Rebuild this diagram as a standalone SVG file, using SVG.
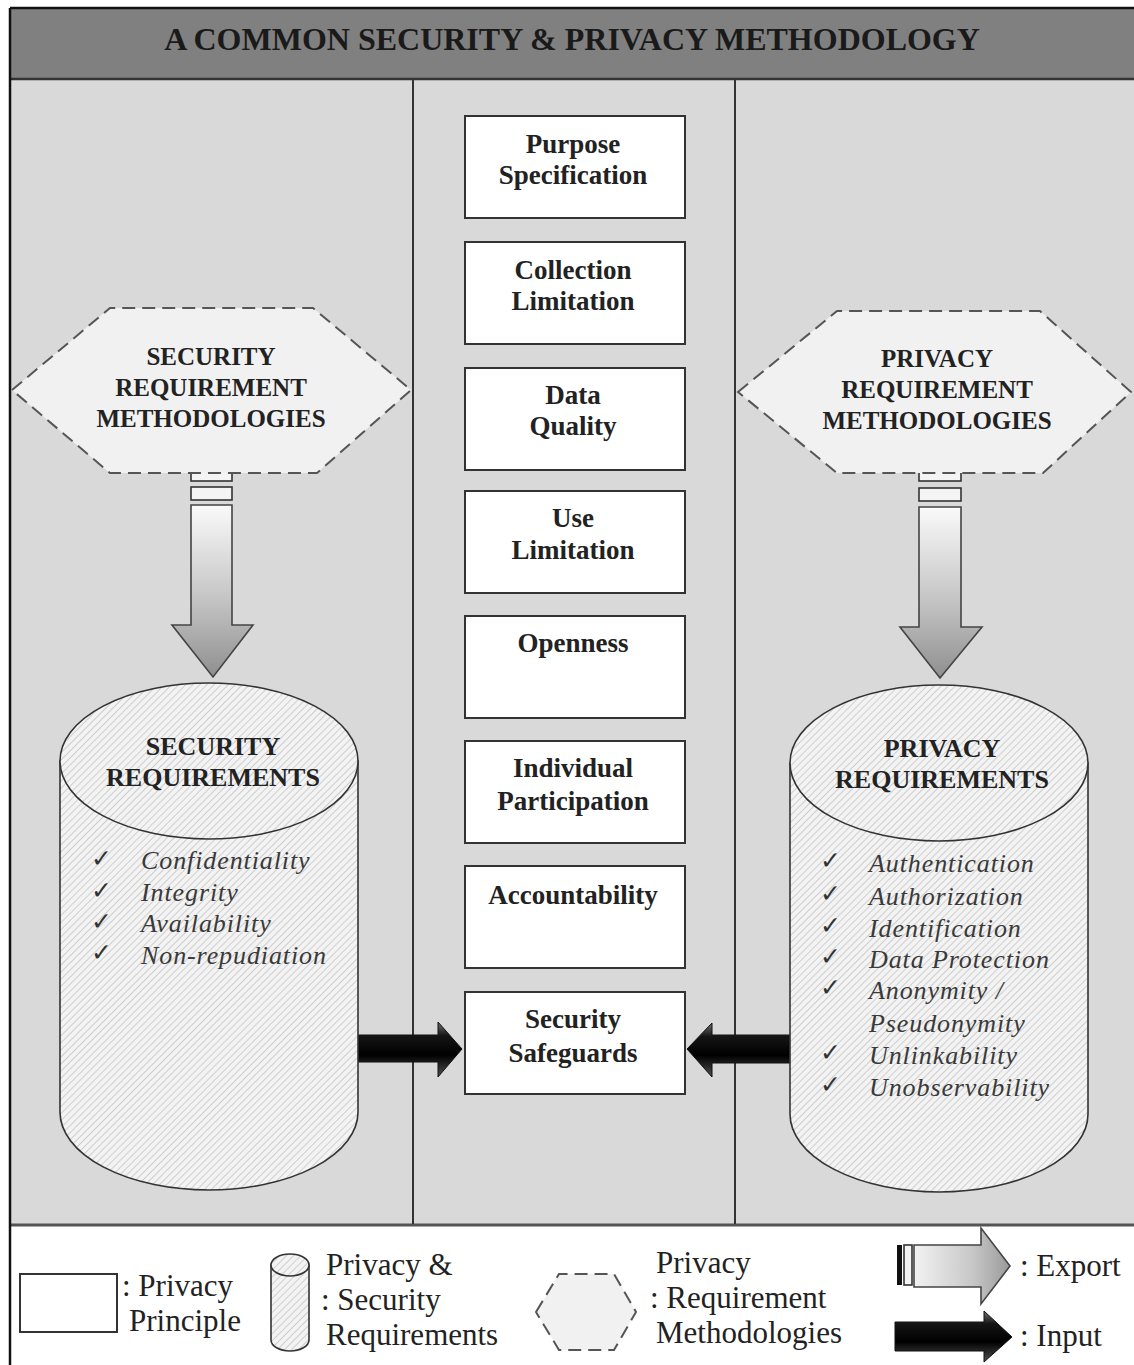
<svg xmlns="http://www.w3.org/2000/svg" width="1134" height="1365" viewBox="0 0 1134 1365">
  <style>
    .title { font-family: "Liberation Serif", serif; font-weight: bold; font-size: 32px; fill: #1a1a1a; text-anchor: middle; }
    .box { fill: #ffffff; stroke: #333333; stroke-width: 2; }
    .boxtxt { font-family: "Liberation Serif", serif; font-weight: bold; font-size: 27px; fill: #222222; text-anchor: middle; }
    .hex { fill: #f1f1f1; stroke: #555555; stroke-width: 2; stroke-dasharray: 13 7; }
    .hextxt { font-family: "Liberation Serif", serif; font-weight: bold; font-size: 25px; fill: #222222; text-anchor: middle; }
    .cyl { fill: url(#hatch); stroke: #333333; stroke-width: 1.6; }
    .cyltxt { font-family: "Liberation Serif", serif; font-weight: bold; font-size: 26px; fill: #222222; text-anchor: middle; }
    .item { font-family: "Liberation Serif", serif; font-style: italic; font-size: 26px; fill: #3a3a3a; letter-spacing: 0.9px; }
    .check { font-family: "DejaVu Sans", sans-serif; font-size: 25px; fill: #333333; }
    .divider { stroke: #333333; stroke-width: 2; }
    .export { fill: url(#exportGrad); stroke: #444444; stroke-width: 1.6; }
    .bar { fill: #f4f4f4; stroke: #333333; stroke-width: 1.6; }
    .input { fill: url(#inputGrad); stroke: #111111; stroke-width: 1; }
    .legend { font-family: "Liberation Serif", serif; font-size: 31px; fill: #222222; }
  </style>
  <defs>
    <pattern id="hatch" patternUnits="userSpaceOnUse" width="5" height="5" patternTransform="rotate(45)">
      <rect width="5" height="5" fill="#f3f3f3"/>
      <line x1="0" y1="0" x2="0" y2="5" stroke="#a9a9a9" stroke-width="1"/>
    </pattern>
    <linearGradient id="exportGrad" x1="0" y1="0" x2="0" y2="1">
      <stop offset="0" stop-color="#fafafa"/>
      <stop offset="0.55" stop-color="#c4c4c4"/>
      <stop offset="1" stop-color="#8f8f8f"/>
    </linearGradient>
    <linearGradient id="exportGradH" x1="0" y1="0" x2="1" y2="0">
      <stop offset="0" stop-color="#f2f2f2"/>
      <stop offset="0.6" stop-color="#c8c8c8"/>
      <stop offset="1" stop-color="#9a9a9a"/>
    </linearGradient>
    <linearGradient id="inputGrad" x1="0" y1="0" x2="0" y2="1">
      <stop offset="0" stop-color="#707070"/>
      <stop offset="0.25" stop-color="#151515"/>
      <stop offset="0.6" stop-color="#000000"/>
      <stop offset="1" stop-color="#505050"/>
    </linearGradient>
  </defs>

  <!-- frame: header band, main panel, legend strip -->
  <g id="frame">
    <rect x="0" y="0" width="1134" height="1365" fill="#ffffff"/>
    <rect x="10" y="9" width="1124" height="70" fill="#808080"/>
    <rect x="10" y="79" width="1124" height="1145" fill="#d9d9d9"/>
    <line x1="10" y1="8" x2="1134" y2="8" stroke="#111111" stroke-width="2.5"/>
    <line x1="10" y1="79" x2="1134" y2="79" stroke="#333333" stroke-width="2.5"/>
    <line x1="10" y1="1225" x2="1134" y2="1225" stroke="#555555" stroke-width="3"/>
    <line x1="10" y1="8" x2="10" y2="1365" stroke="#111111" stroke-width="2.5"/>
    <line class="divider" x1="413" y1="80" x2="413" y2="1224"/>
    <line class="divider" x1="735" y1="80" x2="735" y2="1224"/>
    <text class="title" x="572" y="50">A COMMON SECURITY &amp; PRIVACY METHODOLOGY</text>
  </g>

  <!-- export arrows (methodologies to requirements) and input arrows -->
  <g id="connectors">
    <g id="export-left">
      <rect class="bar" x="191" y="472" width="41" height="9"/>
      <rect class="bar" x="191" y="487" width="41" height="13"/>
      <path class="export" d="M191 505 L232 505 L232 625 L253 625 L213 677 L172 625 L191 625 Z"/>
    </g>
    <g id="export-right">
      <rect class="bar" x="919" y="472" width="42" height="9"/>
      <rect class="bar" x="919" y="488" width="42" height="13"/>
      <path class="export" d="M919 507 L961 507 L961 627 L982 627 L940 678 L900 627 L919 627 Z"/>
    </g>
    <path id="input-left" class="input" d="M352 1035 L438 1035 L438 1022 L462 1049 L438 1077 L438 1062 L352 1062 Z"/>
    <path id="input-right" class="input" d="M795 1035 L712 1035 L712 1023 L687 1049 L712 1077 L712 1063 L795 1063 Z"/>
  </g>

  <!-- security requirement methodologies -->
  <g id="security-methodologies">
    <polygon class="hex" points="12,390 110,308 313,308 411,390 317,473 110,473"/>
    <text class="hextxt" x="211" y="365">SECURITY</text>
    <text class="hextxt" x="211" y="396">REQUIREMENT</text>
    <text class="hextxt" x="211" y="427">METHODOLOGIES</text>
  </g>

  <!-- privacy requirement methodologies -->
  <g id="privacy-methodologies">
    <polygon class="hex" points="738,392 837,311 1040,311 1131,392 1043,473 837,473"/>
    <text class="hextxt" x="937" y="367">PRIVACY</text>
    <text class="hextxt" x="937" y="398">REQUIREMENT</text>
    <text class="hextxt" x="937" y="429">METHODOLOGIES</text>
  </g>

  <!-- security requirements store -->
  <g id="security-requirements">
    <path class="cyl" d="M60 761 L60 1112 A149 78 0 0 0 358 1112 L358 761 Z"/>
    <ellipse class="cyl" cx="209" cy="761" rx="149" ry="78"/>
    <text class="cyltxt" x="213" y="755">SECURITY</text>
    <text class="cyltxt" x="213" y="786">REQUIREMENTS</text>
    <text class="check" x="91" y="867">✓</text>
    <text class="item" x="141" y="869">Confidentiality</text>
    <text class="check" x="91" y="899">✓</text>
    <text class="item" x="141" y="901">Integrity</text>
    <text class="check" x="91" y="930">✓</text>
    <text class="item" x="141" y="932">Availability</text>
    <text class="check" x="91" y="961">✓</text>
    <text class="item" x="141" y="964">Non-repudiation</text>
  </g>

  <!-- privacy requirements store -->
  <g id="privacy-requirements">
    <path class="cyl" d="M790 763 L790 1114 A149 78 0 0 0 1088 1114 L1088 763 Z"/>
    <ellipse class="cyl" cx="939" cy="763" rx="149" ry="78"/>
    <text class="cyltxt" x="942" y="757">PRIVACY</text>
    <text class="cyltxt" x="942" y="788">REQUIREMENTS</text>
    <text class="check" x="820" y="869">✓</text>
    <text class="item" x="869" y="872">Authentication</text>
    <text class="check" x="820" y="902">✓</text>
    <text class="item" x="869" y="905">Authorization</text>
    <text class="check" x="820" y="934">✓</text>
    <text class="item" x="869" y="937">Identification</text>
    <text class="check" x="820" y="965">✓</text>
    <text class="item" x="869" y="968">Data Protection</text>
    <text class="check" x="820" y="996">✓</text>
    <text class="item" x="869" y="999">Anonymity /</text>
    <text class="item" x="869" y="1032">Pseudonymity</text>
    <text class="check" x="820" y="1061">✓</text>
    <text class="item" x="869" y="1064">Unlinkability</text>
    <text class="check" x="820" y="1093">✓</text>
    <text class="item" x="869" y="1096">Unobservability</text>
  </g>

  <!-- privacy principles -->
  <g id="purpose-specification">
    <rect class="box" x="465" y="116" width="220" height="102"/>
    <text class="boxtxt" x="573" y="153">Purpose</text>
    <text class="boxtxt" x="573" y="184">Specification</text>
  </g>
  <g id="collection-limitation">
    <rect class="box" x="465" y="242" width="220" height="102"/>
    <text class="boxtxt" x="573" y="279">Collection</text>
    <text class="boxtxt" x="573" y="310">Limitation</text>
  </g>
  <g id="data-quality">
    <rect class="box" x="465" y="368" width="220" height="102"/>
    <text class="boxtxt" x="573" y="404">Data</text>
    <text class="boxtxt" x="573" y="435">Quality</text>
  </g>
  <g id="use-limitation">
    <rect class="box" x="465" y="491" width="220" height="102"/>
    <text class="boxtxt" x="573" y="527">Use</text>
    <text class="boxtxt" x="573" y="559">Limitation</text>
  </g>
  <g id="openness">
    <rect class="box" x="465" y="616" width="220" height="102"/>
    <text class="boxtxt" x="573" y="652">Openness</text>
  </g>
  <g id="individual-participation">
    <rect class="box" x="465" y="741" width="220" height="102"/>
    <text class="boxtxt" x="573" y="777">Individual</text>
    <text class="boxtxt" x="573" y="810">Participation</text>
  </g>
  <g id="accountability">
    <rect class="box" x="465" y="866" width="220" height="102"/>
    <text class="boxtxt" x="573" y="904">Accountability</text>
  </g>
  <g id="security-safeguards">
    <rect class="box" x="465" y="992" width="220" height="102"/>
    <text class="boxtxt" x="573" y="1028">Security</text>
    <text class="boxtxt" x="573" y="1062">Safeguards</text>
  </g>

  <!-- legend -->
  <g id="legend">
    <rect class="box" x="20" y="1274" width="97" height="58"/>
    <text class="legend" x="122" y="1296">: Privacy</text>
    <text class="legend" x="129" y="1331">Principle</text>

    <path class="cyl" d="M271 1265 L271 1340 A19 11 0 0 0 309 1340 L309 1265 Z"/>
    <ellipse class="cyl" cx="290" cy="1265" rx="19" ry="11"/>
    <text class="legend" x="326" y="1275">Privacy &amp;</text>
    <text class="legend" x="321" y="1310">: Security</text>
    <text class="legend" x="326" y="1345">Requirements</text>

    <polygon class="hex" points="536,1312 559,1274 614,1274 636,1312 614,1350 559,1350" stroke-dasharray="10 6"/>
    <text class="legend" x="656" y="1273">Privacy</text>
    <text class="legend" x="650" y="1308">: Requirement</text>
    <text class="legend" x="656" y="1343">Methodologies</text>

    <rect x="897" y="1245" width="5" height="40" fill="#111111"/>
    <rect class="bar" x="904" y="1245" width="8" height="40"/>
    <path d="M914 1245 L981 1245 L981 1228 L1010 1266 L981 1304 L981 1287 L914 1287 Z" fill="url(#exportGradH)" stroke="#444444" stroke-width="1.6"/>
    <text class="legend" x="1020" y="1276">: Export</text>

    <path class="input" d="M895 1322 L984 1322 L984 1311 L1012 1337 L984 1362 L984 1351 L895 1351 Z"/>
    <text class="legend" x="1020" y="1346">: Input</text>
  </g>
</svg>
